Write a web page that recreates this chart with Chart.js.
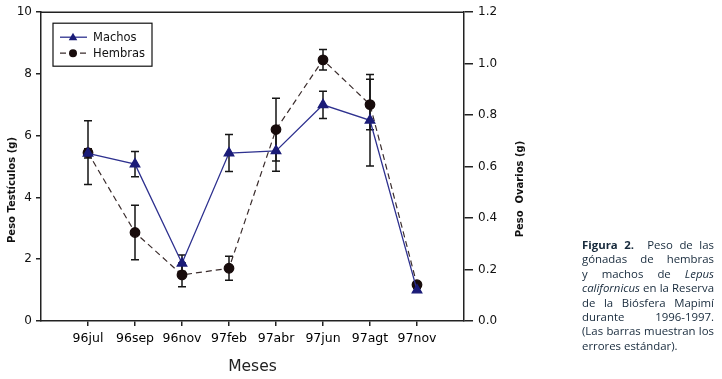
<!DOCTYPE html>
<html><head><meta charset="utf-8">
<script src="https://cdn.jsdelivr.net/npm/chart.js@4"></script>
<style>
html,body{margin:0;padding:0;background:#fff;}
#wrap{position:relative;width:722px;height:379px;overflow:hidden;}
#c{position:absolute;left:0;top:0;}
#cap{position:absolute;left:582px;top:238px;width:132px;font-family:"Open Sans","Noto Sans",sans-serif;font-size:11.4px;line-height:14.4px;color:#16293b;}
#cap div{text-align:justify;text-align-last:justify;white-space:nowrap;}
#cap div.last{text-align-last:left;}
</style></head>
<body>
<div id="wrap">
<canvas id="c" width="722" height="379"></canvas>
<div id="cap">
<div><b>Figura 2.</b>&nbsp; Peso de las</div>
<div>gónadas de hembras</div>
<div>y machos de <i>Lepus</i></div>
<div><i>californicus</i> en la Reserva</div>
<div>de la Biósfera Mapimí</div>
<div>durante 1996-1997.</div>
<div>(Las barras muestran los</div>
<div class="last">errores estándar).</div>
</div>
</div>
<script>
const months = ['96jul','96sep','96nov','97feb','97abr','97jun','97agt','97nov'];
const machos = [5.43, 5.08, 1.87, 5.44, 5.51, 7.0, 6.5, 1.0];
const machosErr = [0.15, 0.41, 0.27, 0.60, 0.66, 0.44, 1.48, 0.05];
const hembras = [0.654, 0.344, 0.179, 0.205, 0.744, 1.015, 0.841, 0.141];
const hembrasErr = [0.124, 0.106, 0.046, 0.047, 0.122, 0.040, 0.098, 0.012];
const leftTitle = 'Peso Testículos (g)';
const rightTitle = 'Peso  Ovarios (g)';
const xTitle = 'Meses';

const errorBars = {
  id: 'errorBars',
  beforeDatasetsDraw(chart) {
    const ctx = chart.ctx, xs = chart.scales.x;
    chart.data.datasets.forEach(ds => {
      const ys = chart.scales[ds.yAxisID];
      ds.data.forEach((p, i) => {
        const e = ds.errors[i];
        const x = xs.getPixelForValue(p.x);
        const yt = ys.getPixelForValue(p.y + e), yb = ys.getPixelForValue(p.y - e);
        ctx.save();
        ctx.strokeStyle = '#151515'; ctx.lineWidth = 1.5;
        ctx.beginPath();
        ctx.moveTo(x, yt); ctx.lineTo(x, yb);
        ctx.moveTo(x - 4, yt); ctx.lineTo(x + 4, yt);
        ctx.moveTo(x - 4, yb); ctx.lineTo(x + 4, yb);
        ctx.stroke();
        ctx.restore();
      });
    });
  }
};

const decor = {
  id: 'decor',
  afterDraw(chart) {
    const ctx = chart.ctx, a = chart.chartArea;
    ctx.save();
    ctx.strokeStyle = '#222'; ctx.lineWidth = 1.5;
    ctx.beginPath(); ctx.moveTo(a.left, a.top); ctx.lineTo(a.right, a.top); ctx.stroke();
    ctx.fillStyle = '#111';
    ctx.font = 'bold 10px "DejaVu Sans"';
    ctx.textAlign = 'center'; ctx.textBaseline = 'middle';
    ctx.save(); ctx.translate(12, 190); ctx.rotate(-Math.PI / 2); ctx.fillText(leftTitle, 0, 0); ctx.restore();
    ctx.save(); ctx.translate(520, 189); ctx.rotate(-Math.PI / 2); ctx.fillText(rightTitle, 0, 0); ctx.restore();
    const lx = a.left + 12, ly = a.top + 11, lw = 99, lh = 43;
    ctx.strokeStyle = '#111'; ctx.lineWidth = 1.2;
    ctx.strokeRect(lx, ly, lw, lh);
    ctx.font = '11.5px "DejaVu Sans"'; ctx.textAlign = 'left';
    chart.data.datasets.forEach((ds, i) => {
      const yy = ly + 14 + i * 16;
      ctx.save();
      ctx.strokeStyle = ds.borderColor; ctx.lineWidth = ds.borderWidth;
      ctx.setLineDash(ds.borderDash || []);
      ctx.beginPath(); ctx.moveTo(lx + 7, yy); ctx.lineTo(lx + 34, yy); ctx.stroke();
      ctx.restore();
      ctx.fillStyle = ds.pointBackgroundColor;
      ctx.beginPath();
      if (ds.pointStyle === 'triangle') {
        const r = 4.5;
        ctx.moveTo(lx + 20, yy - r); ctx.lineTo(lx + 20 + r * 0.95, yy + r * 0.7); ctx.lineTo(lx + 20 - r * 0.95, yy + r * 0.7); ctx.closePath();
      } else {
        ctx.arc(lx + 20, yy, 4, 0, Math.PI * 2);
      }
      ctx.fill();
      ctx.fillStyle = '#111';
      ctx.fillText(ds.label, lx + 40, yy + 0.5);
    });
    ctx.restore();
  }
};

new Chart(document.getElementById('c'), {
  type: 'line',
  data: {
    datasets: [
      {
        label: 'Machos',
        data: machos.map((v, i) => ({x: i + 1, y: v})),
        errors: machosErr,
        yAxisID: 'y',
        borderColor: '#2e318f', borderWidth: 1.3,
        pointStyle: 'triangle', pointRadius: 5.5,
        pointBackgroundColor: '#1b1c78', pointBorderColor: '#1b1c78',
        tension: 0
      },
      {
        label: 'Hembras',
        data: hembras.map((v, i) => ({x: i + 1, y: v})),
        errors: hembrasErr,
        yAxisID: 'y1',
        borderColor: '#3a2c2c', borderWidth: 1.2, borderDash: [6, 4],
        pointStyle: 'circle', pointRadius: 4.8,
        pointBackgroundColor: '#180c0c', pointBorderColor: '#180c0c',
        tension: 0
      }
    ]
  },
  options: {
    responsive: false, animation: false, devicePixelRatio: 1,
    layout: {padding: {left: 0, right: 192, top: 12, bottom: 0}},
    plugins: {legend: {display: false}, tooltip: {enabled: false}},
    scales: {
      x: {
        type: 'linear', min: 0, max: 9,
        afterBuildTicks: s => { s.ticks = months.map((_, i) => ({value: i + 1})); },
        afterFit: s => { s.height = 58; },
        ticks: {callback: v => months[v - 1] || '', autoSkip: false, maxRotation: 0, padding: 5,
                color: '#000', font: {family: 'DejaVu Sans', size: 12.5}},
        grid: {drawOnChartArea: false, tickLength: 5, color: '#222', lineWidth: 1.5},
        border: {color: '#222', width: 1.5},
        title: {display: true, text: xTitle, color: '#222', font: {family: 'DejaVu Sans', size: 15.5}, padding: {top: 0, bottom: 3}}
      },
      y: {
        position: 'left', min: 0, max: 10,
        afterFit: s => { s.width = 41; },
        ticks: {stepSize: 2, padding: 4, color: '#111', font: {family: 'DejaVu Sans', size: 12}},
        grid: {drawOnChartArea: false, tickLength: 5, color: '#222', lineWidth: 1.5},
        border: {color: '#222', width: 1.5}
      },
      y1: {
        position: 'right', min: 0, max: 1.2,
        afterFit: s => { s.width = 66; },
        ticks: {stepSize: 0.2, padding: 5, callback: v => v.toFixed(1), color: '#111', font: {family: 'DejaVu Sans', size: 12}},
        grid: {drawOnChartArea: false, tickLength: 9, color: '#222', lineWidth: 1.5},
        border: {color: '#222', width: 1.5}
      }
    }
  },
  plugins: [errorBars, decor]
});
</script>
</body></html>
